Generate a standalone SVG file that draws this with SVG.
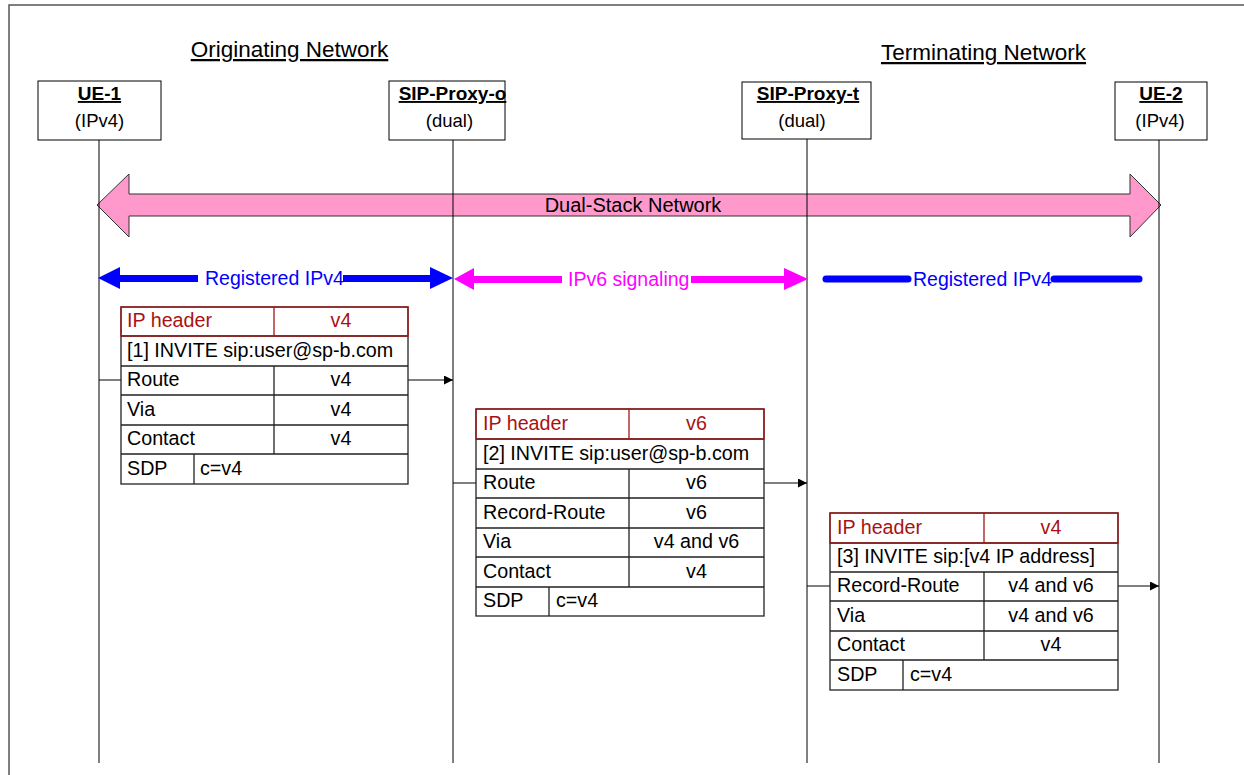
<svg xmlns="http://www.w3.org/2000/svg" width="1244" height="775" viewBox="0 0 1244 775">
  <style>
    text { font-family: "Liberation Sans", Arial, sans-serif; fill: #000; }
    .title { font-size: 22.5px; text-decoration: underline; text-anchor: middle; }
    .name { font-size: 19px; font-weight: bold; text-decoration: underline; text-anchor: middle; }
    .kind { font-size: 18.5px; text-anchor: middle; }
    .box { fill: #fff; stroke: #000; stroke-width: 1; }
    .life { stroke: #000; stroke-width: 1; fill: none; }
    .cell { fill: #fff; stroke: #222; stroke-width: 1.3; }
    .rule { stroke: #222; stroke-width: 1.3; fill: none; }
    .hdr { fill: none; stroke: #a31515; stroke-width: 1.3; }
    .t { font-size: 19.7px; }
    .c { font-size: 19.7px; text-anchor: middle; }
    .red { fill: #aa1111; }
    .msg { stroke: #000; stroke-width: 1; fill: none; }
    .lbl { font-size: 19.5px; }
  </style>
  <defs>
    <marker id="head" viewBox="0 0 10 10" refX="10" refY="5" markerWidth="9" markerHeight="9" markerUnits="userSpaceOnUse" orient="auto">
      <path d="M0,0 L10,5 L0,10 z" fill="#000"/>
    </marker>
  </defs>

  <!-- outer frame -->
  <path d="M9,775 V5 H1244" fill="none" stroke="#555" stroke-width="1.5"/>

  <!-- network titles -->
  <text class="title" x="289.5" y="57">Originating Network</text>
  <text class="title" x="983.5" y="60">Terminating Network</text>

  <!-- dual-stack network block arrow -->
  <g id="dual-stack">
    <polygon points="97,205 129,174 129,194 1130,194 1130,174 1161,205 1130,237 1130,216 129,216 129,237" fill="#ff99cc" stroke="#333" stroke-width="1"/>
    <text x="633" y="212" font-size="20" text-anchor="middle">Dual-Stack Network</text>
  </g>

  <!-- lifelines -->
  <g id="lifelines">
    <line class="life" x1="99" y1="140" x2="99" y2="763"/>
    <line class="life" x1="453" y1="140" x2="453" y2="763"/>
    <line class="life" x1="807" y1="139" x2="807" y2="763"/>
    <line class="life" x1="1159" y1="140" x2="1159" y2="763"/>
  </g>

  <!-- participants -->
  <g id="ue-1">
    <rect class="box" x="38" y="81" width="123" height="59"/>
    <text class="name" x="99.5" y="100">UE-1</text>
    <text class="kind" x="99.5" y="127">(IPv4)</text>
  </g>
  <g id="sip-proxy-o">
    <rect class="box" x="389" y="81" width="116" height="59"/>
    <text class="name" x="452.5" y="100">SIP-Proxy-o</text>
    <text class="kind" x="449.5" y="127">(dual)</text>
  </g>
  <g id="sip-proxy-t">
    <rect class="box" x="742" y="82" width="129" height="57"/>
    <text class="name" x="808" y="100">SIP-Proxy-t</text>
    <text class="kind" x="802" y="127">(dual)</text>
  </g>
  <g id="ue-2">
    <rect class="box" x="1115" y="82" width="92" height="58"/>
    <text class="name" x="1161" y="100">UE-2</text>
    <text class="kind" x="1160" y="127">(IPv4)</text>
  </g>

  <!-- signalling segments -->
  <g id="segments">
    <g id="registered-o" fill="#0000ff">
      <polygon points="98,278 120,267 120,289"/>
      <rect x="119" y="275" width="79" height="7"/>
      <rect x="343" y="275" width="88" height="7"/>
      <polygon points="453,278 430,267 430,289"/>
      <text class="lbl" x="205" y="285" style="fill:#0000ff">Registered IPv4</text>
    </g>
    <g id="ipv6-signaling" fill="#ff00ff">
      <polygon points="454,279 474,268 474,290"/>
      <rect x="473" y="276" width="89" height="7"/>
      <rect x="691" y="276" width="94" height="7"/>
      <polygon points="808,279 784,268 784,290"/>
      <text class="lbl" x="568" y="286" style="fill:#ff00ff">IPv6 signaling</text>
    </g>
    <g id="registered-t">
      <line x1="826" y1="279" x2="908" y2="279" stroke="#0000ff" stroke-width="7" stroke-linecap="round"/>
      <line x1="1054" y1="279" x2="1139" y2="279" stroke="#0000ff" stroke-width="7" stroke-linecap="round"/>
      <text class="lbl" x="913" y="286" style="fill:#0000ff">Registered IPv4</text>
    </g>
  </g>

  <!-- message connectors -->
  <g id="connectors">
    <line class="msg" x1="99" y1="380" x2="121" y2="380"/>
    <line class="msg" x1="408" y1="380" x2="453" y2="380" marker-end="url(#head)"/>
    <line class="msg" x1="453" y1="483" x2="476" y2="483"/>
    <line class="msg" x1="764" y1="483" x2="807" y2="483" marker-end="url(#head)"/>
    <line class="msg" x1="807" y1="586" x2="830" y2="586"/>
    <line class="msg" x1="1118" y1="586" x2="1159" y2="586" marker-end="url(#head)"/>
  </g>

  <!-- [1] INVITE from UE-1 -->
  <g id="msg-1">
    <rect class="cell" x="121" y="307" width="287" height="177"/>
    <path class="rule" d="M121,336 H408 M121,366 H408 M121,395 H408 M121,425 H408 M121,454 H408 M274,366 V454 M194,454 V484"/>
    <rect class="hdr" x="121" y="307" width="287" height="29"/>
    <line class="hdr" x1="274" y1="307" x2="274" y2="336"/>
    <text class="t red" x="127" y="327">IP header</text>
    <text class="c red" x="341" y="327">v4</text>
    <text class="t" x="127" y="357">[1] INVITE sip:user@sp-b.com</text>
    <text class="t" x="127" y="386">Route</text>
    <text class="c" x="341" y="386">v4</text>
    <text class="t" x="127" y="416">Via</text>
    <text class="c" x="341" y="416">v4</text>
    <text class="t" x="127" y="445">Contact</text>
    <text class="c" x="341" y="445">v4</text>
    <text class="t" x="127" y="475">SDP</text>
    <text class="t" x="200" y="475">c=v4</text>
  </g>

  <!-- [2] INVITE from SIP-Proxy-o -->
  <g id="msg-2">
    <rect class="cell" x="476" y="409" width="288" height="207"/>
    <path class="rule" d="M476,439 H764 M476,469 H764 M476,498 H764 M476,528 H764 M476,557 H764 M476,587 H764 M629,469 V587 M549,587 V616"/>
    <rect class="hdr" x="476" y="409" width="288" height="30"/>
    <line class="hdr" x1="629" y1="409" x2="629" y2="439"/>
    <text class="t red" x="483" y="430">IP header</text>
    <text class="c red" x="696.5" y="430">v6</text>
    <text class="t" x="483" y="460">[2] INVITE sip:user@sp-b.com</text>
    <text class="t" x="483" y="489">Route</text>
    <text class="c" x="696.5" y="489">v6</text>
    <text class="t" x="483" y="519">Record-Route</text>
    <text class="c" x="696.5" y="519">v6</text>
    <text class="t" x="483" y="548">Via</text>
    <text class="c" x="696.5" y="548">v4 and v6</text>
    <text class="t" x="483" y="578">Contact</text>
    <text class="c" x="696.5" y="578">v4</text>
    <text class="t" x="483" y="607">SDP</text>
    <text class="t" x="556" y="607">c=v4</text>
  </g>

  <!-- [3] INVITE from SIP-Proxy-t -->
  <g id="msg-3">
    <rect class="cell" x="830" y="513" width="288" height="177"/>
    <path class="rule" d="M830,543 H1118 M830,572 H1118 M830,601 H1118 M830,631 H1118 M830,660 H1118 M984,572 V660 M903,660 V690"/>
    <rect class="hdr" x="830" y="513" width="288" height="30"/>
    <line class="hdr" x1="984" y1="513" x2="984" y2="543"/>
    <text class="t red" x="837" y="534">IP header</text>
    <text class="c red" x="1051" y="534">v4</text>
    <text class="t" x="837" y="563">[3] INVITE sip:[v4 IP address]</text>
    <text class="t" x="837" y="592">Record-Route</text>
    <text class="c" x="1051" y="592">v4 and v6</text>
    <text class="t" x="837" y="622">Via</text>
    <text class="c" x="1051" y="622">v4 and v6</text>
    <text class="t" x="837" y="651">Contact</text>
    <text class="c" x="1051" y="651">v4</text>
    <text class="t" x="837" y="681">SDP</text>
    <text class="t" x="910" y="681">c=v4</text>
  </g>
</svg>
